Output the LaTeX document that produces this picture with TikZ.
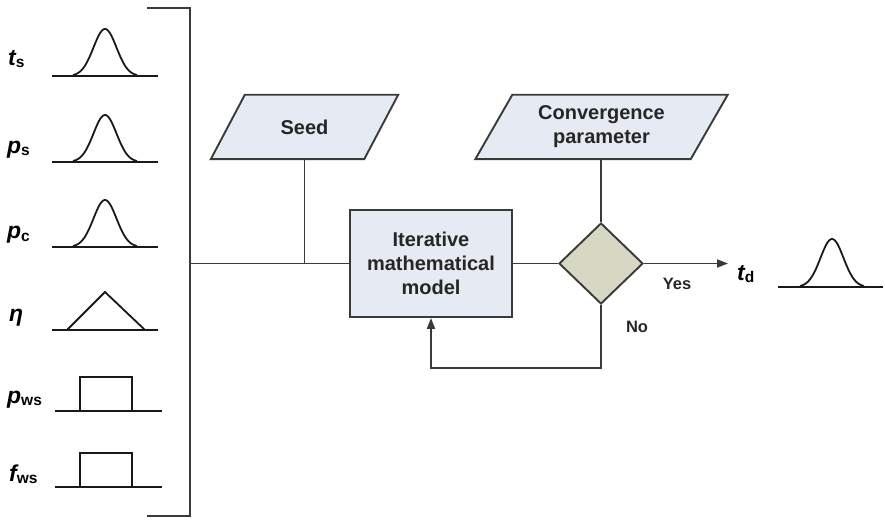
\documentclass[tikz,border=0pt]{standalone}
\usepackage{fontspec}
\setmainfont{Liberation Sans}
\usetikzlibrary{shapes.geometric,arrows.meta,backgrounds}
\definecolor{linec}{HTML}{3A3A3A}
\definecolor{boxfill}{HTML}{E6EAF2}
\definecolor{diafill}{HTML}{D7D8C3}
\newcommand\varlab[2]{{\fontsize{23}{23}\selectfont\bfseries\itshape #1}\raisebox{-2pt}{\fontsize{15.5}{15.5}\selectfont\bfseries #2}}
\tikzset{
  ln/.style={draw=linec,line width=1.9pt},
  curve/.style={draw=black!90,line width=1.8pt},
  boxtext/.style={inner sep=0pt,font=\fontsize{20}{24}\selectfont\bfseries,align=center,text=black!85},
  pgram/.style={ln,fill=boxfill},
  small/.style={inner sep=0pt,font=\fontsize{16.5}{18}\selectfont\bfseries,text=black!85},
  varnode/.style={inner sep=0pt,anchor=base west},
  arr/.style={ln,-{Triangle[length=11pt,width=8pt]}}
}
\begin{document}
\begin{tikzpicture}[x=1pt,y=-1pt]
\useasboundingbox (0,0) rectangle (885,521);
% nodes
\node[boxtext,minimum width=153pt,minimum height=64pt] (seed) at (304.5,127) {Seed};
\node[boxtext,minimum width=215pt,minimum height=64pt] (conv) at (601.5,127) {Convergence\\parameter};
\node[ln,fill=boxfill,boxtext,minimum width=162pt,minimum height=107pt] (model) at (431,263.5) {Iterative\\mathematical\\model};
\node[ln,fill=diafill,diamond,minimum width=84pt,minimum height=81pt,inner sep=0pt] (dec) at (601,263.5) {};
\begin{scope}[on background layer]
\draw[pgram] ([xshift=17pt]seed.north west) -- ([xshift=17pt]seed.north east) -- ([xshift=-17pt]seed.south east) -- ([xshift=-17pt]seed.south west) -- cycle;
\draw[pgram] ([xshift=18.5pt]conv.north west) -- ([xshift=18.5pt]conv.north east) -- ([xshift=-18.5pt]conv.south east) -- ([xshift=-18.5pt]conv.south west) -- cycle;
\end{scope}
% labels
\node[varnode] (ts) at (8,66) {\varlab{t}{s}};
\node[varnode] (ps) at (7,154) {\varlab{p}{s}};
\node[varnode] (pc) at (7,239) {\varlab{p}{c}};
\node[varnode] (eta) at (9,321) {\varlab{η}{}};
\node[varnode] (pws) at (7,403) {\varlab{p}{ws}};
\node[varnode] (fws) at (9,481) {\varlab{f}{ws}};
\node[varnode] (td) at (737,280) {\varlab{t}{d}};
\node[small] (yes) at (677,284) {Yes};
\node[small] (no) at (637,327) {No};
% bracket
\coordinate (bt0) at (147,8);
\coordinate (bt) at (190,8);
\coordinate (bb) at (190,516);
\coordinate (bb0) at (147,516);
\coordinate (bm) at (190,263.5);
\draw[ln] (bt0) -- (bt) -- (bb) -- (bb0);
% connectors
\draw[ln] (bm) -- (model.west);
\draw[ln] (seed.south) -- (seed.south |- bm);
\draw[ln] (model.east) -- (dec.west);
\draw[ln] (conv.south -| dec.north) -- (dec.north);
\coordinate (tdend) at (728,263.5);
\draw[arr] (dec.east) -- (tdend);
\coordinate (fb) at (601,368);
\draw[arr] (dec.south) -- (fb) -| (model.south);
% distributions
\foreach \by in {76,162,247}{
  \draw[curve] (52,\by) -- (158,\by);
  \draw[curve] plot[domain=-32:32,samples=70,smooth] ({105+\x},{\by-47*exp(-(\x*\x)/(2*11.5*11.5))});
}
\draw[curve] (52,330) -- (158,330);
\draw[curve] (67,330) -- (105,292) -- (145,330);
\foreach \by/\ty in {411/377,487/453}{
  \draw[curve] (55,\by) -- (162,\by);
  \draw[curve] (80,\by) -- (80,\ty) -- (132,\ty) -- (132,\by);
}
\draw[curve] (778,287) -- (883,287);
\draw[curve] plot[domain=-32:32,samples=70,smooth] ({832+\x},{287-48*exp(-(\x*\x)/(2*11.5*11.5))});
\end{tikzpicture}
\end{document}
